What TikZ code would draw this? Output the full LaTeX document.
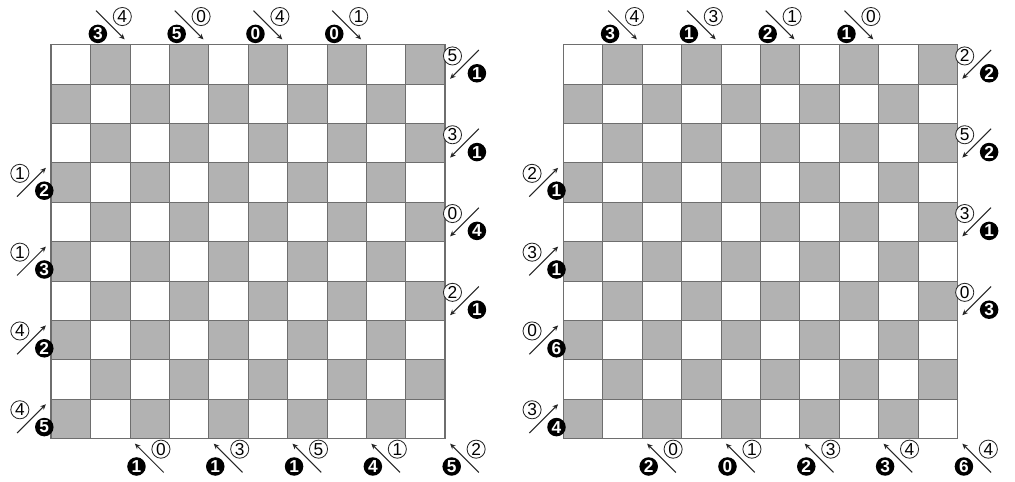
\documentclass[tikz,border=0pt]{standalone}
\usepackage{fontspec}
\newfontfamily\cluefont{Liberation Sans}
\usetikzlibrary{arrows.meta}
\definecolor{cell}{HTML}{B2B2B2}
\definecolor{rule}{HTML}{6E6E6E}

% one 10x10 board, lower left corner at (#1,0)
\newcommand{\board}[1]{%
  \foreach \i in {0,...,9}
    \foreach \j in {0,...,9}{
      \pgfmathtruncatemacro{\parity}{mod(\i+\j,2)}
      \ifnum\parity=0 \fill[cell] ({#1+\i},\j) rectangle ({#1+\i+1},\j+1); \fi
    }
  \draw[rule,line width=0.4pt] (#1,0) grid ({#1+10},10);
  \draw[rule,line width=1pt] (#1,0) rectangle ({#1+10},10);
}
% clue: name, corner x, corner y, direction x, direction y, black digit, white digit
\newcommand{\clue}[7]{%
  \coordinate (#1s) at ({#2-0.86*(#4)},{#3-0.86*(#5)});
  \coordinate (#1e) at ({#2-0.13*(#4)},{#3-0.13*(#5)});
  \draw[cluearr] (#1s) -- (#1e);
  \node[dark]  (#1b) at ({#2-0.49*(#4)+0.32*(#4)*(#5)},{#3-0.49*(#5)-0.22}) {#6};
  \node[light] (#1w) at ({#2-0.49*(#4)-0.30*(#4)*(#5)},{#3-0.49*(#5)+0.22}) {#7};
}

\begin{document}
\begin{tikzpicture}[
  dark/.style={circle,fill=black,text=white,inner sep=0pt,minimum size=0.47cm,font=\cluefont\bfseries\fontsize{12.5}{12.5}\selectfont},
  light/.style={circle,draw=black!85,line width=0.6pt,fill=white,inner sep=0pt,minimum size=0.46cm,font=\cluefont\fontsize{12.5}{12.5}\selectfont},
  cluearr/.style={-{Stealth[length=4pt,width=3.6pt]},line width=0.75pt,black!85}]
  \useasboundingbox (-1.294,-1.09) rectangle (24.467,11.13);
  \fill[white] (-1.294,-1.09) rectangle (24.467,11.13);

  % left board
  \board{0}
  \clue{t1}{2}{10}{1}{-1}{3}{4}
  \clue{t2}{4}{10}{1}{-1}{5}{0}
  \clue{t3}{6}{10}{1}{-1}{0}{4}
  \clue{t4}{8}{10}{1}{-1}{0}{1}
  \clue{r1}{10}{9}{-1}{-1}{1}{5}
  \clue{r2}{10}{7}{-1}{-1}{1}{3}
  \clue{r3}{10}{5}{-1}{-1}{4}{0}
  \clue{r4}{10}{3}{-1}{-1}{1}{2}
  \clue{l1}{0}{7}{1}{1}{2}{1}
  \clue{l2}{0}{5}{1}{1}{3}{1}
  \clue{l3}{0}{3}{1}{1}{2}{4}
  \clue{l4}{0}{1}{1}{1}{5}{4}
  \clue{b1}{2}{0}{-1}{1}{1}{0}
  \clue{b2}{4}{0}{-1}{1}{1}{3}
  \clue{b3}{6}{0}{-1}{1}{1}{5}
  \clue{b4}{8}{0}{-1}{1}{4}{1}
  \clue{b5}{10}{0}{-1}{1}{5}{2}

  % right board
  \board{13}
  \clue{Rt1}{15}{10}{1}{-1}{3}{4}
  \clue{Rt2}{17}{10}{1}{-1}{1}{3}
  \clue{Rt3}{19}{10}{1}{-1}{2}{1}
  \clue{Rt4}{21}{10}{1}{-1}{1}{0}
  \clue{Rr1}{23}{9}{-1}{-1}{2}{2}
  \clue{Rr2}{23}{7}{-1}{-1}{2}{5}
  \clue{Rr3}{23}{5}{-1}{-1}{1}{3}
  \clue{Rr4}{23}{3}{-1}{-1}{3}{0}
  \clue{Rl1}{13}{7}{1}{1}{1}{2}
  \clue{Rl2}{13}{5}{1}{1}{1}{3}
  \clue{Rl3}{13}{3}{1}{1}{6}{0}
  \clue{Rl4}{13}{1}{1}{1}{4}{3}
  \clue{Rb1}{15}{0}{-1}{1}{2}{0}
  \clue{Rb2}{17}{0}{-1}{1}{0}{1}
  \clue{Rb3}{19}{0}{-1}{1}{2}{3}
  \clue{Rb4}{21}{0}{-1}{1}{3}{4}
  \clue{Rb5}{23}{0}{-1}{1}{6}{4}
\end{tikzpicture}
\end{document}
